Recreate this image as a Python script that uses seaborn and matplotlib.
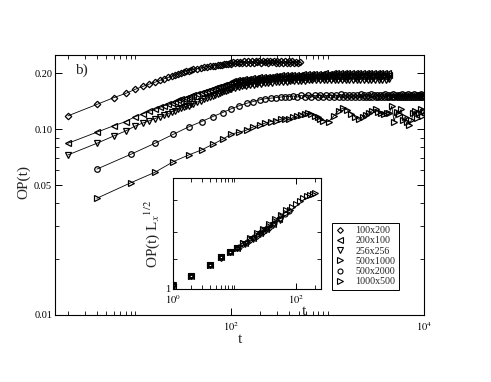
import math
import matplotlib
matplotlib.use("Agg")
import matplotlib.pyplot as plt
from matplotlib.ticker import FixedLocator, NullFormatter, FuncFormatter
import seaborn as sns

# ---------------- data ----------------
LABELS = ["100x200", "200x100", "256x256", "500x1000", "500x2000", "1000x500"]

# time grid (even steps) for 100x200, 200x100, 256x256
T_EARLY = [2, 4, 6, 8, 10, 12, 14, 16, 18, 20, 22, 24, 26, 28, 30, 32, 34, 36, 38, 40,
           44, 48, 52, 56, 60, 64, 68, 72, 76, 80, 84, 88, 92, 96]
T_LATE = [100, 104, 110, 114, 120, 124, 130, 136, 142, 148,
          156, 162, 170, 178, 186, 194, 202, 212, 222, 232,
          242, 252, 264, 276, 288, 300, 314, 328, 342, 358,
          374, 392, 410, 428, 446, 466, 488, 510, 532, 556,
          582, 608, 636, 664, 694, 724, 758, 792, 828, 864,
          904, 944, 986, 1030, 1076, 1126, 1176, 1228, 1284, 1342,
          1402, 1466, 1532, 1600, 1672, 1748, 1826, 1908, 1994, 2084,
          2178, 2276, 2378, 2484, 2596, 2714, 2836, 2962, 3096, 3236,
          3380, 3532, 3692, 3858, 4032, 4214, 4300]

OP_100x200_EARLY = [0.118, 0.136, 0.148, 0.156, 0.164, 0.170, 0.175, 0.179, 0.183, 0.187,
                    0.190, 0.193, 0.196, 0.199, 0.202, 0.204, 0.206, 0.207, 0.209, 0.210,
                    0.212, 0.214, 0.215, 0.217, 0.218, 0.219, 0.220, 0.221, 0.222, 0.223,
                    0.224, 0.224, 0.225, 0.226]
OP_100x200_LATE = [0.225, 0.229, 0.226, 0.230, 0.227, 0.231, 0.227, 0.232, 0.228, 0.232,
                   0.228, 0.233, 0.228, 0.233, 0.229, 0.233, 0.228, 0.234, 0.229, 0.233,
                   0.228, 0.233, 0.229, 0.234, 0.228, 0.233, 0.228, 0.233, 0.227, 0.232,
                   0.228, 0.232, 0.227, 0.232, 0.227, 0.231, 0.226, 0.230]

OP_200x100_EARLY = [0.084, 0.0964, 0.1045, 0.110, 0.117, 0.121, 0.125, 0.128, 0.131, 0.134,
                    0.136, 0.138, 0.141, 0.143, 0.145, 0.146, 0.148, 0.149, 0.151, 0.152,
                    0.155, 0.157, 0.159, 0.161, 0.163, 0.165, 0.166, 0.168, 0.169, 0.171,
                    0.172, 0.174, 0.175, 0.177]
OP_200x100_LATE = [0.178, 0.182, 0.180, 0.184, 0.181, 0.185, 0.182, 0.186, 0.183, 0.187,
                   0.184, 0.188, 0.185, 0.189, 0.186, 0.190, 0.187, 0.191, 0.188, 0.192,
                   0.188, 0.192, 0.189, 0.193, 0.190, 0.194, 0.190, 0.195, 0.191, 0.195,
                   0.191, 0.196, 0.192, 0.196, 0.192, 0.197, 0.193, 0.197, 0.193, 0.198,
                   0.193, 0.198, 0.194, 0.198, 0.194, 0.199, 0.194, 0.199, 0.195, 0.199,
                   0.195, 0.200, 0.195, 0.199, 0.196, 0.200, 0.195, 0.200, 0.196, 0.200,
                   0.195, 0.200, 0.196, 0.200, 0.195, 0.201, 0.196, 0.200, 0.195, 0.200,
                   0.196, 0.201, 0.195, 0.200, 0.196, 0.201, 0.195, 0.200, 0.196, 0.201,
                   0.195, 0.200, 0.196, 0.201, 0.195, 0.200, 0.197]

OP_256x256_EARLY = [0.0727, 0.084, 0.092, 0.098, 0.104, 0.108, 0.111, 0.114, 0.117, 0.119,
                    0.121, 0.124, 0.126, 0.128, 0.130, 0.131, 0.133, 0.134, 0.136, 0.137,
                    0.140, 0.142, 0.145, 0.147, 0.149, 0.151, 0.153, 0.155, 0.157, 0.158,
                    0.160, 0.161, 0.163, 0.164]
OP_256x256_LATE = [0.164, 0.168, 0.166, 0.170, 0.168, 0.172, 0.170, 0.174, 0.171, 0.175,
                   0.173, 0.177, 0.174, 0.178, 0.175, 0.179, 0.176, 0.180, 0.177, 0.181,
                   0.177, 0.182, 0.178, 0.183, 0.179, 0.183, 0.179, 0.184, 0.180, 0.184,
                   0.180, 0.185, 0.181, 0.185, 0.181, 0.186, 0.182, 0.186, 0.182, 0.187,
                   0.182, 0.187, 0.183, 0.187, 0.183, 0.188, 0.183, 0.188, 0.184, 0.188,
                   0.184, 0.189, 0.184, 0.188, 0.185, 0.189, 0.184, 0.189, 0.185, 0.189,
                   0.184, 0.189, 0.185, 0.189, 0.184, 0.190, 0.185, 0.189, 0.184, 0.189,
                   0.185, 0.190, 0.184, 0.189, 0.185, 0.190, 0.184, 0.189, 0.185, 0.190,
                   0.184, 0.189, 0.185, 0.190, 0.184, 0.189, 0.186]

# 500x2000: sampled at t = 4, 9, 16, ... 10000
T_500x2000 = [4, 9, 16, 25, 36, 49, 64, 81, 100, 121,
              144, 169, 196, 225, 256, 289, 324, 361, 400, 441,
              484, 529, 576, 625, 676, 729, 784, 841, 900, 961,
              1024, 1089, 1156, 1225, 1296, 1369, 1444, 1521, 1600, 1681,
              1764, 1849, 1936, 2025, 2116, 2209, 2304, 2401, 2500, 2601,
              2704, 2809, 2916, 3025, 3136, 3249, 3364, 3481, 3600, 3721,
              3844, 3969, 4096, 4225, 4356, 4489, 4624, 4761, 4900, 5041,
              5184, 5329, 5476, 5625, 5776, 5929, 6084, 6241, 6400, 6561,
              6724, 6889, 7056, 7225, 7396, 7569, 7744, 7921, 8100, 8281,
              8464, 8649, 8836, 9025, 9216, 9409, 9604, 9801, 10000]
OP_500x2000 = [0.061, 0.0733, 0.084, 0.094, 0.103, 0.110, 0.117, 0.123, 0.129, 0.134,
               0.138, 0.141, 0.144, 0.146, 0.147, 0.148, 0.149, 0.150, 0.150, 0.151,
               0.149, 0.152, 0.150, 0.153, 0.149, 0.152, 0.150, 0.153, 0.149, 0.152,
               0.150, 0.153, 0.149, 0.152, 0.150, 0.154, 0.149, 0.152, 0.150, 0.153,
               0.149, 0.153, 0.150, 0.152, 0.149, 0.154, 0.150, 0.153, 0.149, 0.152,
               0.150, 0.154, 0.149, 0.152, 0.150, 0.153, 0.149, 0.153, 0.150, 0.152,
               0.149, 0.154, 0.150, 0.152, 0.149, 0.153, 0.150, 0.154, 0.149, 0.152,
               0.150, 0.153, 0.149, 0.152, 0.150, 0.154, 0.149, 0.153, 0.150, 0.152,
               0.149, 0.154, 0.150, 0.152, 0.149, 0.153, 0.150, 0.154, 0.149, 0.152,
               0.150, 0.153, 0.149, 0.152, 0.150, 0.154, 0.149, 0.153, 0.151]

# 1000x500
T_1000x500 = [4, 9, 16, 25, 36, 49, 64, 81, 100, 121, 144, 169, 196, 225, 256, 289,
              324, 361, 400, 441, 484, 529, 576, 625, 676, 729, 784, 841, 900,
              1024, 1156, 1296, 1444, 1600, 1764, 1936, 2116, 2304, 2500, 2704,
              2916, 3136, 3364, 3600, 3844, 4096, 4356, 4624, 4900, 5184, 5476,
              5776, 6084, 6400, 6724, 7056, 7396, 7744, 8100, 8464, 8836, 9216,
              9604, 10000]
OP_1000x500 = [0.0425, 0.0515, 0.0586, 0.067, 0.0727, 0.0774, 0.083, 0.0883, 0.0944, 0.0964,
               0.099, 0.103, 0.1054, 0.108, 0.110, 0.111, 0.113, 0.114, 0.113, 0.116,
               0.118, 0.120, 0.121, 0.122, 0.121, 0.118, 0.116, 0.113, 0.111,
               0.110, 0.118, 0.126, 0.130, 0.127, 0.121, 0.116, 0.113, 0.117, 0.120,
               0.123, 0.126, 0.128, 0.124, 0.122, 0.121, 0.123, 0.122, 0.133, 0.110,
               0.124, 0.121, 0.128, 0.112, 0.117, 0.110, 0.106, 0.112, 0.122, 0.126,
               0.115, 0.123, 0.128, 0.118, 0.125]

# inset (scaled data)
IX_100x200 = [1, 2, 4, 6, 8.5, 11, 14, 18, 23, 29, 36]
IY_100x200 = [1.10, 1.36, 1.75, 2.08, 2.38, 2.60, 2.85, 3.12, 3.45, 3.80, 4.15]
IX_200x100 = [1, 2, 4, 6, 8.5, 11, 15, 20, 26, 33, 42, 53]
IY_200x100 = [1.08, 1.35, 1.74, 2.10, 2.40, 2.62, 2.95, 3.30, 3.70, 4.10, 4.60, 5.10]
IX_256x256 = [1, 2, 4, 6, 8.5, 11, 15, 20, 26, 33, 42, 55]
IY_256x256 = [1.11, 1.37, 1.77, 2.12, 2.37, 2.58, 2.88, 3.20, 3.58, 3.98, 4.45, 5.00]
IX_500x1000 = [1, 2, 4, 6, 8.5, 11, 14, 18, 23, 29, 36, 45, 56, 68, 80]
IY_500x1000 = [1.10, 1.36, 1.76, 2.09, 2.39, 2.60, 2.90, 3.20, 3.55, 3.95, 4.40, 4.90, 5.45, 5.95, 6.35]
IX_500x2000 = [1, 2, 4, 6, 8.5, 12, 16, 21, 27, 34, 43, 54, 66, 78]
IY_500x2000 = [1.09, 1.35, 1.74, 2.09, 2.38, 2.68, 3.00, 3.35, 3.75, 4.20, 4.70, 5.25, 5.75, 6.20]
IX_1000x500 = [1, 2, 4, 6, 8.5, 11, 14, 18, 23, 29, 36, 45, 56, 68, 85, 100, 115, 131,
               150, 170, 190, 202]
IY_1000x500 = [1.11, 1.37, 1.76, 2.11, 2.40, 2.61, 2.95, 3.30, 3.70, 4.10, 4.55, 5.10,
               5.70, 6.30, 6.85, 7.35, 7.85, 8.30, 8.70, 9.05, 9.30, 9.40]

MAIN_XTICKS = [100, 10000]
MAIN_XMINOR = [2, 3, 4, 5, 6, 7, 8, 9, 10, 200, 300, 400, 500, 600, 700, 800, 900, 1000]
MAIN_YTICKS = [0.01, 0.05, 0.1, 0.2]
MAIN_YLABELS = ["0.01", "0.05", "0.10", "0.20"]
MAIN_YMINOR = [0.02, 0.03, 0.04, 0.06, 0.07, 0.08, 0.09]
INS_XTICKS = [1, 100]
INS_XMINOR = [2, 3, 4, 5, 6, 7, 8, 9, 10, 200]
INS_YTICKS = [1]
INS_YMINOR = [2, 3.75, 8]

# ---------------- style ----------------
sns.set_theme(style="ticks")
plt.rcParams["font.family"] = ["Liberation Serif", "DejaVu Serif"]
plt.rcParams["mathtext.fontset"] = "stix"
plt.rcParams["axes.edgecolor"] = "black"
plt.rcParams["axes.linewidth"] = 0.8

MARKERS = ["D", "<", "v", ">", "o", ">"]
MSIZES = [3.3, 4.3, 4.3, 4.3, 4.0, 4.3]

fig = plt.figure(figsize=(4.91, 3.82), dpi=100)
W, H = 491, 382
ax = fig.add_axes([55 / W, (H - 315) / H, 369 / W, 260 / H])

main = [(T_EARLY + T_LATE[:len(OP_100x200_LATE)], OP_100x200_EARLY + OP_100x200_LATE),
        (T_EARLY + T_LATE, OP_200x100_EARLY + OP_200x100_LATE),
        (T_EARLY + T_LATE, OP_256x256_EARLY + OP_256x256_LATE),
        None,
        (T_500x2000, OP_500x2000),
        (T_1000x500, OP_1000x500)]

for i, d in enumerate(main):
    if d is None:
        continue
    t, op = d
    sns.lineplot(x=t, y=op, ax=ax, color="black", lw=0.6, marker=MARKERS[i],
                 ms=MSIZES[i], mfc="none", mec="black", mew=0.9,
                 sort=False, estimator=None, legend=False)

ax.set_xscale("log")
ax.set_yscale("log")
ax.set_xlim(1.47, 1e4)
ax.set_ylim(0.01, 0.251)


def pow10(v, p):
    return r"$10^{%d}$" % round(math.log10(v))


ax.xaxis.set_major_locator(FixedLocator(MAIN_XTICKS))
ax.xaxis.set_major_formatter(FuncFormatter(pow10))
ax.xaxis.set_minor_locator(FixedLocator(MAIN_XMINOR))
ax.xaxis.set_minor_formatter(NullFormatter())
ax.yaxis.set_major_locator(FixedLocator(MAIN_YTICKS))
ax.yaxis.set_major_formatter(FuncFormatter(
    lambda v, p: MAIN_YLABELS[p] if p is not None and p < len(MAIN_YLABELS) else ""))
ax.yaxis.set_minor_locator(FixedLocator(MAIN_YMINOR))
ax.yaxis.set_minor_formatter(NullFormatter())
ax.tick_params(which="both", direction="in", top=True, right=True,
               bottom=True, left=True, colors="black", labelsize=7.5)
ax.tick_params(which="major", length=5, width=0.7)
ax.tick_params(which="minor", length=3, width=0.6)
ax.tick_params(axis="x", pad=4)
ax.tick_params(axis="y", pad=2)

ax.set_xlabel("t", fontsize=11)
ax.set_ylabel("OP(t)", fontsize=11)
ax.xaxis.set_label_coords(0.501, -0.07)
ax.yaxis.set_label_coords(-0.068, 0.51)
ax.text(0.054, 0.927, "b)", transform=ax.transAxes, fontsize=11, va="baseline")

# ---------------- inset ----------------
axin = fig.add_axes([172.7 / W, (H - 289) / H, 148 / W, 111 / H])
axin.set_facecolor("white")
inset = [(IX_100x200, IY_100x200), (IX_200x100, IY_200x100), (IX_256x256, IY_256x256),
         (IX_500x1000, IY_500x1000), (IX_500x2000, IY_500x2000), (IX_1000x500, IY_1000x500)]
handles = []
for i, (x, y) in enumerate(inset):
    sns.lineplot(x=x, y=y, ax=axin, color="black", linestyle="none", marker=MARKERS[i],
                 ms=MSIZES[i] * 0.9, mfc="none", mec="black", mew=0.8,
                 sort=False, estimator=None, legend=False)
    handles.append(axin.lines[-1])

axin.set_xscale("log")
axin.set_yscale("log")
axin.set_xlim(1, 250)
axin.set_ylim(1, 13.4)
axin.xaxis.set_major_locator(FixedLocator(INS_XTICKS))
axin.xaxis.set_major_formatter(FuncFormatter(pow10))
axin.xaxis.set_minor_locator(FixedLocator(INS_XMINOR))
axin.xaxis.set_minor_formatter(NullFormatter())
axin.yaxis.set_major_locator(FixedLocator(INS_YTICKS))
axin.yaxis.set_major_formatter(FuncFormatter(lambda v, p: "1"))
axin.yaxis.set_minor_locator(FixedLocator(INS_YMINOR))
axin.yaxis.set_minor_formatter(NullFormatter())
axin.tick_params(which="both", direction="in", top=True, right=True,
                 bottom=True, left=True, colors="black", labelsize=7.5)
axin.tick_params(which="major", length=4.5, width=0.7)
axin.tick_params(which="minor", length=3, width=0.6)
axin.tick_params(axis="x", pad=3)
axin.tick_params(axis="y", pad=1.5)
axin.set_xlabel("t", fontsize=11)
axin.set_ylabel(r"OP(t) L$_{x}{}^{1/2}$", fontsize=11)
axin.xaxis.set_label_coords(0.885, -0.14)
axin.yaxis.set_label_coords(-0.075, 0.5)

leg = fig.legend(handles, LABELS, loc="upper left",
                 bbox_to_anchor=(331.7 / W, 1 - 222.7 / H), frameon=True,
                 fancybox=False, edgecolor="black", framealpha=1, fontsize=7.2,
                 handlelength=1.0, handletextpad=1.0, borderpad=0.35,
                 labelspacing=0.12, borderaxespad=0)
leg.get_frame().set_linewidth(0.7)

fig.savefig("out.png", dpi=100)
